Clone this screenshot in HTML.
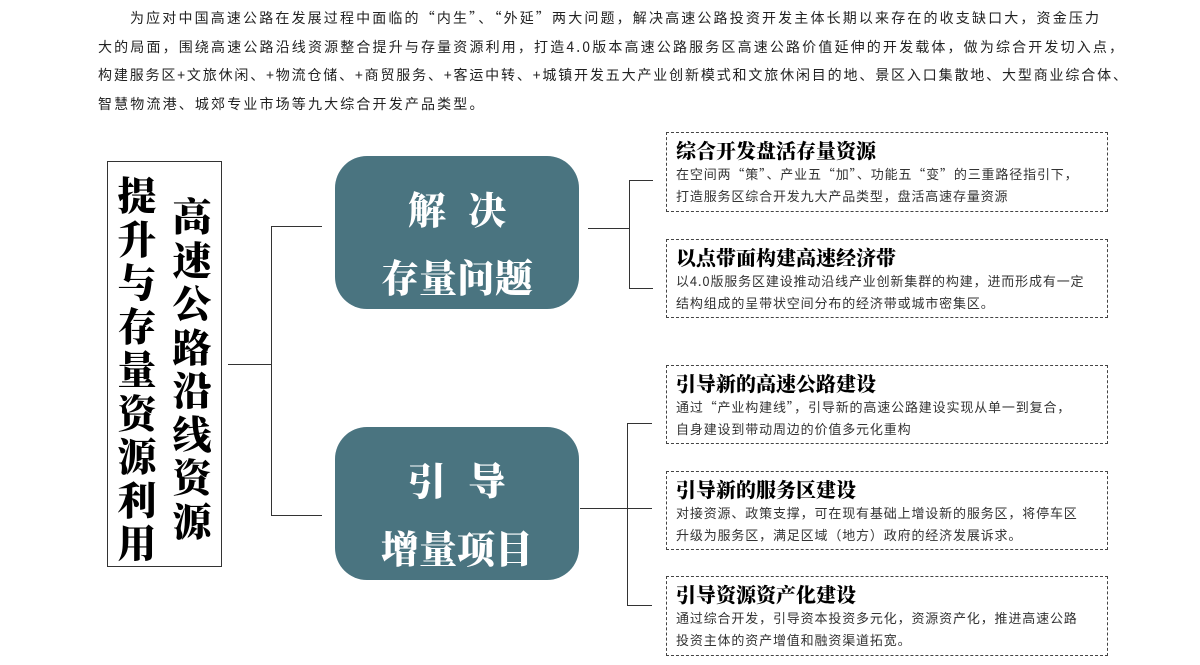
<!DOCTYPE html>
<html><head><meta charset="utf-8"><style>
body{margin:0;width:1200px;height:665px;background:#fff;position:relative;overflow:hidden;font-family:"Noto Sans CJK SC",sans-serif;color:#222}
.p{position:absolute;left:98px;top:4px;font-size:14px;line-height:28.5px;letter-spacing:2.15px;white-space:nowrap;color:#222}
.l{position:absolute;background:#333}
.lb{position:absolute;left:107px;top:161px;width:115px;height:406px;border:1px solid #333;box-sizing:border-box}
.col{position:absolute;font-family:"Noto Serif CJK SC",serif;font-weight:900;font-size:39px;line-height:43.5px;width:44px;text-align:center;color:#000}
.rb{position:absolute;left:335px;width:244px;height:153px;background:#4a7480;border-radius:32px;color:#fff;font-family:"Noto Serif CJK SC",serif;font-weight:900;font-size:38px;text-align:center}
.rb div{position:absolute;left:0;right:0}
.db{position:absolute;left:666px;width:442px;border:1px dashed #444;box-sizing:border-box;padding:4px 0 0 9px}
.db h3{margin:0;font-family:"Noto Serif CJK SC",serif;font-weight:900;font-size:20px;line-height:26px;color:#000}
.db p{margin:0;font-size:13px;letter-spacing:0.85px;line-height:21.5px;color:#333;white-space:nowrap}
</style></head><body>
<div class="p"><span style="padding-left:32px"></span>为应对中国高速公路在发展过程中面临的“内生”、“外延”两大问题，解决高速公路投资开发主体长期以来存在的收支缺口大，资金压力<br>大的局面，围绕高速公路沿线资源整合提升与存量资源利用，打造4.0版本高速公路服务区高速公路价值延伸的开发载体，做为综合开发切入点，<br><span style="letter-spacing:1.85px">构建服务区+文旅休闲、+物流仓储、+商贸服务、+客运中转、+城镇开发五大产业创新模式和文旅休闲目的地、景区入口集散地、大型商业综合体、</span><br>智慧物流港、城郊专业市场等九大综合开发产品类型。</div>

<div class="lb"></div>
<div class="col" style="left:115px;top:173px">提升与存量资源利用</div>
<div class="col" style="left:170px;top:194px">高速公路沿线资源</div>

<div class="l" style="left:228px;top:364px;width:44px;height:1px"></div>
<div class="l" style="left:271px;top:226px;width:1px;height:290px"></div>
<div class="l" style="left:271px;top:226px;width:51px;height:1px"></div>
<div class="l" style="left:271px;top:515px;width:51px;height:1px"></div>

<div class="rb" style="top:156px"><div style="top:24px;letter-spacing:22px;padding-left:22px">解决</div><div style="top:92px">存量问题</div></div>
<div class="rb" style="top:427px"><div style="top:24px;letter-spacing:22px;padding-left:22px">引导</div><div style="top:92px">增量项目</div></div>

<div class="l" style="left:588px;top:228px;width:42px;height:1px"></div>
<div class="l" style="left:629px;top:180px;width:1px;height:109px"></div>
<div class="l" style="left:629px;top:180px;width:24px;height:1px"></div>
<div class="l" style="left:629px;top:288px;width:24px;height:1px"></div>

<div class="l" style="left:580px;top:508px;width:72px;height:1px"></div>
<div class="l" style="left:627px;top:423px;width:1px;height:183px"></div>
<div class="l" style="left:627px;top:423px;width:25px;height:1px"></div>
<div class="l" style="left:627px;top:605px;width:25px;height:1px"></div>

<div class="db" style="top:132px;height:80px"><h3>综合开发盘活存量资源</h3><p>在空间两“策”、产业五“加”、功能五“变”的三重路径指引下，<br>打造服务区综合开发九大产品类型，盘活高速存量资源</p></div>
<div class="db" style="top:239px;height:79px"><h3>以点带面构建高速经济带</h3><p>以4.0版服务区建设推动沿线产业创新集群的构建，进而形成有一定<br>结构组成的呈带状空间分布的经济带或城市密集区。</p></div>
<div class="db" style="top:365px;height:79px"><h3>引导新的高速公路建设</h3><p>通过“产业构建线”，引导新的高速公路建设实现从单一到复合，<br>自身建设到带动周边的价值多元化重构</p></div>
<div class="db" style="top:471px;height:79px"><h3>引导新的服务区建设</h3><p>对接资源、政策支撑，可在现有基础上增设新的服务区，将停车区<br>升级为服务区，满足区域（地方）政府的经济发展诉求。</p></div>
<div class="db" style="top:576px;height:80px"><h3>引导资源资产化建设</h3><p>通过综合开发，引导资本投资多元化，资源资产化，推进高速公路<br>投资主体的资产增值和融资渠道拓宽。</p></div>
</body></html>
